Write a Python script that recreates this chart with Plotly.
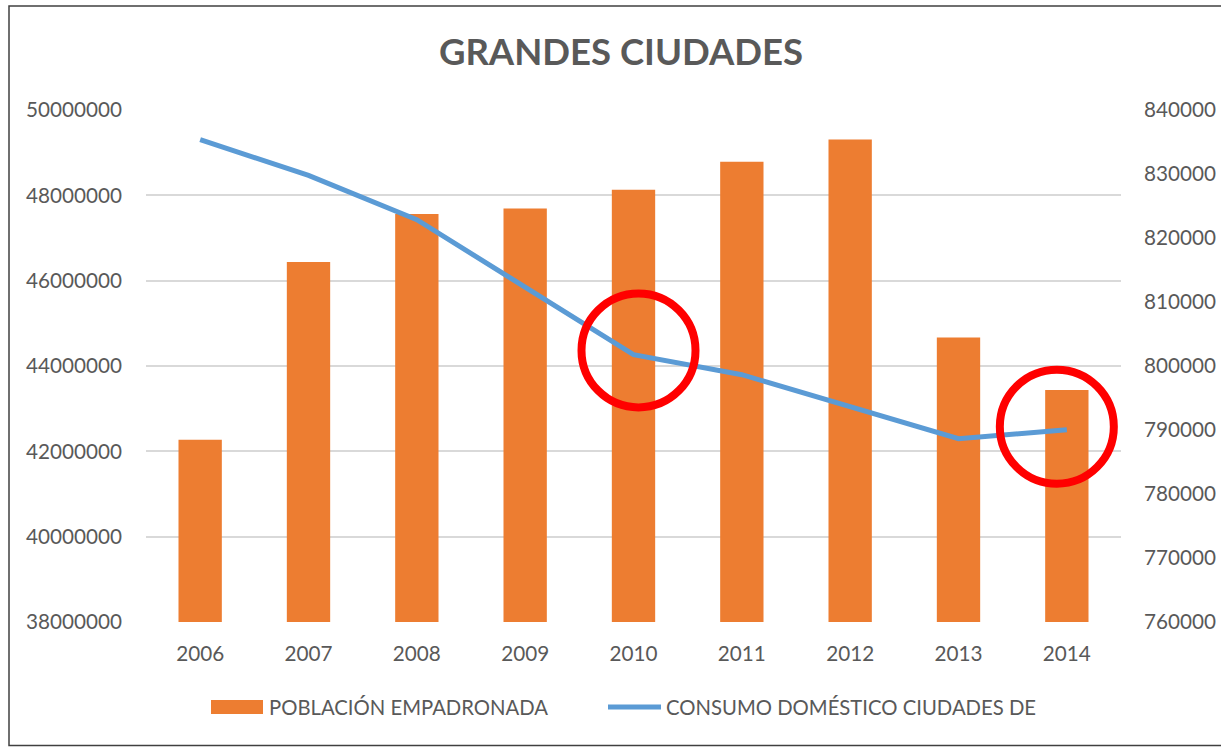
import plotly.graph_objects as go

years = ["2006", "2007", "2008", "2009", "2010", "2011", "2012", "2013", "2014"]
poblacion = [42270000, 46440000, 47560000, 47690000, 48130000, 48790000, 49310000, 44670000, 43440000]
consumo = [835360, 829780, 822860, 812280, 801770, 798640, 793590, 788640, 790050]

bar_name = "POBLACIÓN EMPADRONADA"
line_name = "CONSUMO DOMÉSTICO CIUDADES DE"
title_text = "GRANDES CIUDADES"

# highlighted points (category, value on right axis, pixel offset of circle centre)
highlights = [("2010", 802440, 5), ("2014", 790520, -10)]

W, H = 1221, 747
L, R, T, B = 146, 100, 110, 125
pw, ph = W - L - R, H - T - B

bar_color = "#ED7D31"
line_color = "#5B9BD5"
txt = "#595959"
font = "Lato, 'Open Sans', sans-serif"


def px(x):  # pixel x -> paper
    return (x - L) / pw


def py(y):  # pixel y (from top) -> paper
    return (H - B - y) / ph


fig = go.Figure()
fig.add_trace(go.Bar(x=years, y=poblacion, name=bar_name, marker=dict(color=bar_color, line=dict(width=0)),
                     yaxis="y", showlegend=False))
fig.add_trace(go.Scatter(x=years, y=consumo, name=line_name, mode="lines",
                         line=dict(color=line_color, width=5), yaxis="y2", showlegend=False))

shapes = []
for cat, val, off in highlights:
    shapes.append(dict(type="circle", xref="x", yref="y2", xsizemode="pixel", ysizemode="pixel",
                       xanchor=years.index(cat), yanchor=val, x0=off - 57, x1=off + 57, y0=-57, y1=57,
                       line=dict(color="#FF0000", width=8), layer="above"))
# chart border
shapes.append(dict(type="rect", xref="paper", yref="paper",
                   x0=px(9), x1=px(1230), y0=py(745.5), y1=py(6),
                   line=dict(color="#404040", width=1.5), fillcolor="rgba(0,0,0,0)", layer="below"))
# legend swatches
shapes.append(dict(type="rect", xref="paper", yref="paper", x0=px(211), x1=px(263), y0=py(714), y1=py(700),
                   line=dict(width=0), fillcolor=bar_color))
shapes.append(dict(type="line", xref="paper", yref="paper", x0=px(608), x1=px(661), y0=py(707), y1=py(707),
                   line=dict(color=line_color, width=5)))

annotations = [
    dict(text=bar_name, xref="paper", yref="paper", x=px(267), y=py(707), xanchor="left", yanchor="middle",
         showarrow=False, font=dict(size=20.3, color=txt, family=font)),
    dict(text=line_name, xref="paper", yref="paper", x=px(664), y=py(707), xanchor="left", yanchor="middle",
         showarrow=False, font=dict(size=20.3, color=txt, family=font)),
]

fig.update_layout(
    width=W, height=H,
    margin=dict(l=L, r=R, t=T, b=B, autoexpand=False),
    paper_bgcolor="white", plot_bgcolor="white",
    font=dict(family=font, color=txt, size=21),
    showlegend=False,
    title=dict(text="<b>" + title_text + "</b>", x=621 / W, xanchor="center", y=1 - 52 / H, yanchor="middle",
               xref="container", yref="container", font=dict(size=36.5, color=txt, family=font)),
    bargap=0.6,
    xaxis=dict(type="category", range=[-0.5, len(years) - 0.5], autorange=False, showgrid=False,
               showline=False, ticks="", ticklabelstandoff=17, automargin=False,
               tickfont=dict(size=20.7, color=txt)),
    yaxis=dict(range=[38000000, 50000000], dtick=2000000, tickformat="d", showgrid=True,
               gridcolor="#D9D9D9", gridwidth=1.5, zeroline=False, showline=False, ticks="",
               ticklabelstandoff=23, automargin=False, tickfont=dict(size=20.7, color=txt)),
    yaxis2=dict(range=[760000, 840000], dtick=10000, tickformat="d", overlaying="y", side="right",
                showgrid=False, zeroline=False, showline=False, ticks="", ticklabelstandoff=22,
                automargin=False, tickfont=dict(size=20.7, color=txt)),
    shapes=shapes,
    annotations=annotations,
)

fig.write_html("out.html", config={"displayModeBar": False},
               post_script="document.body.style.margin='0';document.body.style.overflow='hidden';")
